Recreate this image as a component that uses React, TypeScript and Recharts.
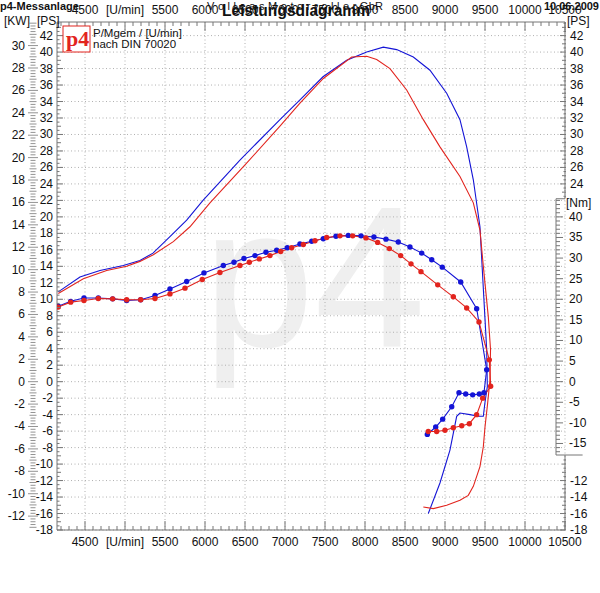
import React from "react";
import {
  LineChart,
  Line,
  XAxis,
  YAxis,
  CartesianGrid,
  ReferenceLine,
} from "recharts";

const FONT = "'Liberation Sans', Arial, Helvetica, sans-serif";
const BLUE = "#1414d6";
const RED = "#e2241e";
const AXIS = "#777777";
const TEXT = "#111111";

// rpm axis
const rpmMajor = [4500, 5000, 5500, 6000, 6500, 7000, 7500, 8000, 8500, 9000, 9500, 10000, 10500];
const rpmLabels = ["4500", "[U/min]", "5500", "6000", "6500", "7000", "7500", "8000", "8500", "9000", "9500", "10000", "10500"];

// labelled ticks of the vertical axes
const psLeftLabels = [-18, -16, -14, -12, -10, -8, -6, -4, -2, 0, 2, 4, 6, 8, 10, 12, 14, 16, 18, 20, 22, 24, 26, 28, 30, 32, 34, 36, 38, 40, 42];
const psRightLabels = [-18, -16, -14, -12, 24, 26, 28, 30, 32, 34, 36, 38, 40, 42];
const kwLabels = [-12, -10, -8, -6, -4, -2, 0, 2, 4, 6, 8, 10, 12, 14, 16, 18, 20, 22, 24, 26, 28, 30];
const nmLabels = [-15, -10, -5, 0, 5, 10, 15, 20, 25, 30, 35, 40];

// blue run: power [PS]
const bpRpm = [4166, 4437, 4687, 4979, 5187, 5350, 5562, 5771, 5975, 6437, 6937, 7187, 7475, 7771, 8021, 8229, 8396, 8604, 8812, 9021, 9187, 9271, 9354, 9437, 9487, 9521, 9529, 9500, 9479, 9416, 9312, 9187, 9146, 9062, 8937, 8791];
const bpPs = [10.9, 12.7, 13.5, 14.1, 14.7, 15.6, 17.6, 19.6, 22.0, 26.9, 31.8, 34.2, 37.0, 39.0, 40.0, 40.6, 40.3, 39.4, 37.8, 35.0, 31.8, 28.5, 24.5, 18.8, 9.9, 3.9, -0.6, -2.5, -4.2, -4.2, -4.0, -3.8, -4.2, -8.3, -12.3, -16.0];

// red run: power [PS]
const rpRpm = [4166, 4479, 4771, 5021, 5187, 5354, 5604, 5812, 6062, 6500, 6937, 7187, 7479, 7833, 8021, 8146, 8312, 8521, 8729, 8937, 9187, 9354, 9437, 9479, 9541, 9569, 9562, 9531, 9500, 9479, 9437, 9354, 9291, 9187, 9021, 8854, 8729];
const rpPs = [10.7, 12.5, 13.5, 14.0, 14.6, 15.4, 17.0, 18.8, 21.7, 26.3, 31.0, 33.8, 36.8, 39.4, 39.5, 39.1, 38.0, 35.4, 31.8, 28.5, 24.9, 21.7, 18.4, 14.0, 7.9, 3.9, 0.2, -2.8, -5.5, -7.9, -10.3, -12.7, -13.8, -14.4, -15.0, -15.4, -15.2];

// blue run: torque [Nm]
const btRpm = [4166, 4321, 4487, 4666, 4846, 5021, 5196, 5375, 5562, 5771, 5987, 6229, 6362, 6487, 6625, 6762, 6896, 7029, 7187, 7334, 7479, 7637, 7791, 7950, 8112, 8262, 8416, 8562, 8709, 8834, 8966, 9196, 9396, 9521, 9487, 9429, 9346, 9259, 9175, 9084, 8971, 8884, 8779];
const btNm = [18.3, 19.5, 20.3, 20.3, 20.1, 19.7, 19.9, 20.9, 22.5, 24.3, 26.4, 28.2, 29.0, 29.9, 30.6, 31.4, 31.9, 32.5, 33.4, 34.1, 34.7, 35.3, 35.5, 35.4, 35.1, 34.6, 33.9, 32.7, 31.2, 29.6, 27.8, 24.2, 17.7, 2.9, -2.7, -3.0, -3.2, -3.0, -2.7, -6.1, -9.1, -11.0, -12.8];

// red run: torque [Nm]
const rtRpm = [4166, 4321, 4487, 4666, 4846, 5021, 5196, 5375, 5562, 5750, 5966, 6187, 6437, 6554, 6679, 6812, 6946, 7083, 7229, 7375, 7521, 7687, 7846, 8012, 8158, 8304, 8446, 8575, 8700, 8909, 9104, 9271, 9425, 9554, 9571, 9471, 9396, 9304, 9209, 9104, 9000, 8896, 8791];
const rtNm = [18.1, 19.3, 19.7, 20.2, 20.1, 19.9, 19.9, 20.2, 21.3, 22.7, 24.8, 26.5, 28.2, 29.0, 29.8, 30.6, 31.6, 32.5, 33.3, 34.2, 35.0, 35.4, 35.4, 34.9, 33.8, 32.3, 30.6, 28.6, 26.7, 23.5, 20.6, 17.9, 14.5, 5.3, -1.1, -4.0, -8.0, -10.2, -10.7, -11.2, -11.8, -12.1, -12.1];

const rows = (xs: number[], ys: number[]) => xs.map((rpm, i) => ({ rpm, v: ys[i] }));
const bluePower = rows(bpRpm, bpPs);
const redPower = rows(rpRpm, rpPs);
const blueTorque = rows(btRpm, btNm);
const redTorque = rows(rtRpm, rtNm);

const KW_PER_PS = 1 / 1.35962;
const PS_DOMAIN: [number, number] = [-18, 43.65];
const KW_DOMAIN: [number, number] = [PS_DOMAIN[0] * KW_PER_PS, PS_DOMAIN[1] * KW_PER_PS];
const NM_DOMAIN: [number, number] = [PS_DOMAIN[0] * 2, PS_DOMAIN[1] * 2];
const RPM_DOMAIN: [number, number] = [4150, 10500];

// the torque scale box on the right
const NM_BOX: [number, number] = [-17.8, 44.4];
const NM_BOX_X = 10387.5;

const steps = (a: number, b: number, s: number) => {
  const out: number[] = [];
  for (let v = a; v <= b + 1e-9; v += s) out.push(Math.round(v * 100) / 100);
  return out;
};
const rpmTicks = steps(4200, 10500, 100);
const psLeftTicks = steps(-18, 43.5, 0.5);
const psRightTicks = [...steps(-18, -9.5, 0.5), ...steps(22.5, 43.5, 0.5)];
const kwTicks = steps(-13, 32, 0.25);
const nmTicks = steps(-17, 44, 1);

const has = (arr: number[], v: number) => arr.some((a) => Math.abs(a - v) < 1e-6);
const txt = { fontFamily: FONT, fontSize: 12, fill: TEXT } as const;

const BottomTick = (p: any) => {
  const v = p.payload.value;
  const i = rpmMajor.indexOf(v);
  return (
    <g>
      <line x1={p.x} x2={p.x} y1={p.y} y2={p.y - (i >= 0 ? 9 : 4)} stroke={AXIS} />
      {i >= 0 && (
        <text x={p.x} y={p.y + 16} textAnchor="middle" {...txt}>
          {rpmLabels[i]}
        </text>
      )}
    </g>
  );
};

const TopTick = (p: any) => {
  const v = p.payload.value;
  const i = rpmMajor.indexOf(v);
  return (
    <g>
      <line x1={p.x} x2={p.x} y1={p.y} y2={p.y + (i >= 0 ? 9 : 4)} stroke={AXIS} />
      {i >= 0 && (
        <text x={p.x} y={p.y - 8} textAnchor="middle" {...txt}>
          {rpmLabels[i]}
        </text>
      )}
    </g>
  );
};

const PsLeftTick = (p: any) => {
  const v = p.payload.value;
  const major = has(psLeftLabels, v);
  const even = Math.abs(v - Math.round(v)) < 1e-6;
  return (
    <g>
      <line x1={p.x} x2={p.x + (major ? 6 : even ? 4 : 2.5)} y1={p.y} y2={p.y} stroke={AXIS} />
      {major && (
        <text x={p.x - 4} y={p.y + 4} textAnchor="end" {...txt}>
          {v}
        </text>
      )}
    </g>
  );
};

const PsRightTick = (p: any) => {
  const v = p.payload.value;
  const major = has(psRightLabels, v);
  const even = Math.abs(v - Math.round(v)) < 1e-6;
  return (
    <g>
      <line x1={p.x} x2={p.x - (major ? 6 : even ? 4 : 2.5)} y1={p.y} y2={p.y} stroke={AXIS} />
      {major && (
        <text x={p.x + 4} y={p.y + 4} textAnchor="start" {...txt}>
          {v}
        </text>
      )}
    </g>
  );
};

const KwTick = (p: any) => {
  const v = p.payload.value;
  const major = has(kwLabels, v);
  const whole = Math.abs(v - Math.round(v)) < 1e-6;
  const len = major ? 5 : whole ? 3.5 : 2.5;
  return (
    <g>
      <line x1={p.x - len} x2={p.x + len} y1={p.y} y2={p.y} stroke={AXIS} strokeWidth={0.8} />
      {major && (
        <text x={p.x - 8} y={p.y + 4} textAnchor="end" {...txt}>
          {v}
        </text>
      )}
    </g>
  );
};

const NmTick = (p: any) => {
  const v = p.payload.value;
  const major = has(nmLabels, v);
  const x0 = p.x - 9;
  return (
    <g>
      <line x1={x0} x2={x0 + (major ? 7 : 4)} y1={p.y} y2={p.y} stroke={AXIS} />
      {major && (
        <text x={p.x + 4} y={p.y + 4} textAnchor="start" {...txt}>
          {v}
        </text>
      )}
    </g>
  );
};

const torqueDot = (color: string) => ({ r: 2.7, fill: color, stroke: "none" });

export default function App() {
  return (
    <div style={{ position: "absolute", left: 0, top: 0, width: 600, height: 593, background: "#fff", fontFamily: FONT }}>
      <svg width={600} height={593} style={{ position: "absolute", left: 0, top: 0 }}>
        <text x={203} y={346} fontFamily={FONT} fontSize={200} fill="#efefef">
          p4
        </text>
      </svg>
      <div style={{ position: "absolute", left: 0, top: 0 }}>
        <LineChart width={600} height={593} margin={{ top: 0, right: 0, bottom: 33, left: 0 }}>
          <CartesianGrid
            xAxisId="b"
            yAxisId="a_ps"
            stroke="#b0b0b0"
            strokeDasharray="1 2.5"
            verticalValues={rpmMajor}
            horizontalValues={psLeftLabels}
          />
          <XAxis
            xAxisId="b"
            dataKey="rpm"
            type="number"
            orientation="bottom"
            domain={RPM_DOMAIN}
            allowDataOverflow
            ticks={rpmTicks}
            interval={0}
            height={30}
            tickSize={0}
            tickMargin={0}
            tickLine={false}
            stroke={AXIS}
            tick={BottomTick}
          />
          <XAxis
            xAxisId="t"
            dataKey="rpm"
            type="number"
            orientation="top"
            domain={RPM_DOMAIN}
            allowDataOverflow
            ticks={rpmTicks}
            interval={0}
            height={22}
            tickSize={0}
            tickMargin={0}
            tickLine={false}
            stroke={AXIS}
            tick={TopTick}
          />
          <YAxis
            yAxisId="b_kw"
            orientation="left"
            type="number"
            domain={KW_DOMAIN}
            allowDataOverflow
            ticks={kwTicks}
            interval={0}
            width={33}
            tickSize={0}
            tickMargin={0}
            tickLine={false}
            axisLine={false}
            tick={KwTick}
          />
          <YAxis
            yAxisId="a_ps"
            orientation="left"
            type="number"
            domain={PS_DOMAIN}
            allowDataOverflow
            ticks={psLeftTicks}
            interval={0}
            width={24}
            tickSize={0}
            tickMargin={0}
            tickLine={false}
            stroke={AXIS}
            tick={PsLeftTick}
          />
          <YAxis
            yAxisId="b_psr"
            orientation="right"
            type="number"
            domain={PS_DOMAIN}
            allowDataOverflow
            ticks={psRightTicks}
            interval={0}
            width={34}
            tickSize={0}
            tickMargin={0}
            tickLine={false}
            axisLine={false}
            tick={PsRightTick}
          />
          <YAxis
            yAxisId="a_nm"
            orientation="right"
            type="number"
            domain={NM_DOMAIN}
            allowDataOverflow
            ticks={nmTicks}
            interval={0}
            width={1}
            tickSize={0}
            tickMargin={0}
            tickLine={false}
            axisLine={false}
            tick={NmTick}
          />
          <ReferenceLine
            xAxisId="b"
            yAxisId="b_psr"
            segment={[{ x: RPM_DOMAIN[1], y: PS_DOMAIN[0] }, { x: RPM_DOMAIN[1], y: NM_BOX[0] / 2 }]}
            stroke={AXIS}
            ifOverflow="visible"
          />
          <ReferenceLine
            xAxisId="b"
            yAxisId="b_psr"
            segment={[{ x: RPM_DOMAIN[1], y: NM_BOX[1] / 2 }, { x: RPM_DOMAIN[1], y: PS_DOMAIN[1] }]}
            stroke={AXIS}
            ifOverflow="visible"
          />
          <ReferenceLine
            xAxisId="b"
            yAxisId="a_nm"
            segment={[{ x: NM_BOX_X, y: NM_BOX[0] }, { x: NM_BOX_X, y: NM_BOX[1] }]}
            stroke={AXIS}
            ifOverflow="visible"
          />
          <ReferenceLine
            xAxisId="b"
            yAxisId="a_nm"
            segment={[{ x: NM_BOX_X, y: NM_BOX[1] }, { x: RPM_DOMAIN[1], y: NM_BOX[1] }]}
            stroke={AXIS}
            ifOverflow="visible"
          />
          <ReferenceLine
            xAxisId="b"
            yAxisId="a_nm"
            segment={[{ x: NM_BOX_X, y: NM_BOX[0] }, { x: 10720, y: NM_BOX[0] }]}
            stroke={AXIS}
            ifOverflow="visible"
          />
          <Line data={bluePower} dataKey="v" xAxisId="b" yAxisId="a_ps" type="linear" stroke={BLUE} strokeWidth={1.1} dot={false} isAnimationActive={false} />
          <Line data={redPower} dataKey="v" xAxisId="b" yAxisId="a_ps" type="linear" stroke={RED} strokeWidth={1.1} dot={false} isAnimationActive={false} />
          <Line data={blueTorque} dataKey="v" xAxisId="b" yAxisId="a_nm" type="linear" stroke={BLUE} strokeWidth={1.1} dot={torqueDot(BLUE)} isAnimationActive={false} />
          <Line data={redTorque} dataKey="v" xAxisId="b" yAxisId="a_nm" type="linear" stroke={RED} strokeWidth={1.1} dot={torqueDot(RED)} isAnimationActive={false} />
        </LineChart>
      </div>
      <svg width={600} height={593} style={{ position: "absolute", left: 0, top: 0, pointerEvents: "none" }}>
        <g fontFamily={FONT} fill={TEXT}>
          <text x={0} y={10} fontSize={11} fontWeight="bold">p4-Messanlage</text>
          <text x={207} y={10} fontSize={11} textLength={176} lengthAdjust="spacing">V o l l e a s M o t o r r o l l e r GbR</text>
          <text x={222} y={16} fontSize={16} fontWeight="bold" textLength={148} lengthAdjust="spacingAndGlyphs">Leistungsdiagramm</text>
          <text x={599} y={10} fontSize={11} fontWeight="bold" textAnchor="end">10.06.2009</text>
          <text x={4} y={25} fontSize={12}>[KW]</text>
          <text x={37} y={25} fontSize={12}>[PS]</text>
          <text x={567} y={25} fontSize={12}>[PS]</text>
          <text x={566} y={207} fontSize={12}>[Nm]</text>
          <rect x={63} y={26} width={27} height={26} fill="#fff" stroke={RED} strokeWidth={1} />
          <text x={66} y={46} fontSize={22} fontWeight="bold" fill={RED} fontFamily="'Liberation Serif', serif">p4</text>
          <text x={93} y={37} fontSize={11.5}>P/Mgem / [U/min]</text>
          <text x={93} y={48} fontSize={11.5}>nach DIN 70020</text>
        </g>
      </svg>
    </div>
  );
}
